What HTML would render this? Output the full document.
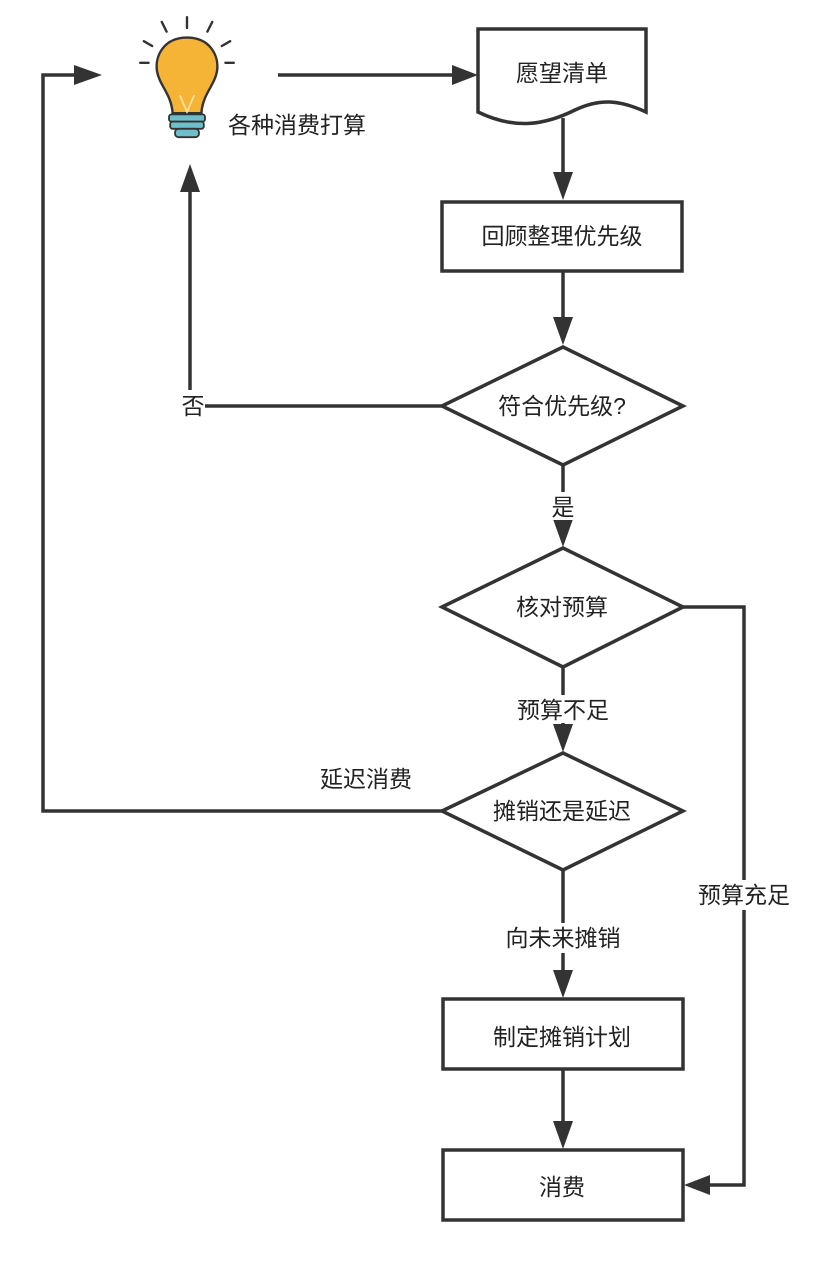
<!DOCTYPE html>
<html><head><meta charset="utf-8"><style>
html,body{margin:0;padding:0;background:#fff;}
svg text{font-family:"Liberation Sans","Noto Sans CJK SC",sans-serif;font-size:23px;fill:#222;}
</style></head><body>
<svg width="826" height="1258" viewBox="0 0 826 1258" xmlns="http://www.w3.org/2000/svg">
<g stroke="#333" stroke-width="3.5" fill="none">
<path d="M478 29 H646 V112 C620 100 600 98 575 110 C545 125 515 130 478 112 Z" fill="#fff"/>
<rect x="442" y="202" width="240" height="69" fill="#fff"/>
<polygon points="442,406 563,347 683,406 563,465" fill="#fff"/>
<polygon points="442,607 563,548 683,607 563,667" fill="#fff"/>
<polygon points="442,811 563,753 683,811 563,870" fill="#fff"/>
<rect x="443" y="999" width="240" height="70" fill="#fff"/>
<rect x="443" y="1150" width="240" height="70" fill="#fff"/>
<line x1="278" y1="75" x2="455" y2="75"/>
<line x1="563" y1="118" x2="563" y2="176"/>
<line x1="563" y1="271" x2="563" y2="320"/>
<line x1="563" y1="465" x2="563" y2="522"/>
<line x1="563" y1="667" x2="563" y2="728"/>
<line x1="563" y1="870" x2="563" y2="975"/>
<line x1="563" y1="1069" x2="563" y2="1125"/>
<polyline points="442,406 205,406"/>
<line x1="190" y1="390" x2="190" y2="188"/>
<polyline points="442,811 43,811 43,75 78,75"/>
<polyline points="683,607 744,607 744,1185 705,1185"/>
</g>
<g fill="#333">
<polygon points="478,75 452,65 452,85"/>
<polygon points="563,200 553,172 573,172"/>
<polygon points="563,345 553,317 573,317"/>
<polygon points="563,547 553,519 573,519"/>
<polygon points="563,752 553,724 573,724"/>
<polygon points="563,998 553,970 573,970"/>
<polygon points="563,1149 553,1121 573,1121"/>
<polygon points="190,164 180,192 200,192"/>
<polygon points="102,75 74,65 74,85"/>
<polygon points="684,1185 710,1175 710,1195"/>
</g>
<g transform="translate(187,70) scale(1.2) translate(-187,-62)">
<g stroke="#333" stroke-width="2" stroke-linecap="round">
<line x1="187" y1="18" x2="187" y2="27"/>
<line x1="166" y1="22" x2="170" y2="30"/>
<line x1="208" y1="22" x2="204" y2="30"/>
<line x1="151" y1="38" x2="158" y2="42"/>
<line x1="223" y1="38" x2="216" y2="42"/>
<line x1="148" y1="56" x2="155" y2="56"/>
<line x1="226" y1="56" x2="219" y2="56"/>
</g>
<path d="M187 35 C168 35 160 50 162 63 C164 75 174 82 175 98 H199 C200 82 210 75 212 63 C214 50 206 35 187 35 Z" fill="#f6b436" stroke="#333" stroke-width="2"/>
<path d="M181 83 L187 97 L193 83" fill="none" stroke="#fbe0a0" stroke-width="1.5"/>
<rect x="172" y="99" width="30" height="6" rx="2" fill="#6cc0cc" stroke="#333" stroke-width="1.5"/>
<rect x="173" y="105" width="28" height="6" rx="2" fill="#6cc0cc" stroke="#333" stroke-width="1.5"/>
<rect x="177" y="111" width="20" height="7" rx="3" fill="#6cc0cc" stroke="#333" stroke-width="1.5"/>
</g>
<text x="228" y="133">各种消费打算</text>
<text x="562" y="81" text-anchor="middle">愿望清单</text>
<text x="562" y="244" text-anchor="middle">回顾整理优先级</text>
<text x="562" y="414" text-anchor="middle">符合优先级?</text>
<text x="562" y="615" text-anchor="middle">核对预算</text>
<text x="562" y="819" text-anchor="middle">摊销还是延迟</text>
<text x="562" y="1045" text-anchor="middle">制定摊销计划</text>
<text x="562" y="1195" text-anchor="middle">消费</text>
<text x="193" y="414" text-anchor="middle">否</text>
<rect x="545" y="492" width="36" height="28" fill="#fff"/>
<text x="563" y="515" text-anchor="middle">是</text>
<rect x="508" y="695" width="110" height="28" fill="#fff"/>
<text x="563" y="718" text-anchor="middle">预算不足</text>
<text x="366" y="787" text-anchor="middle">延迟消费</text>
<rect x="496" y="923" width="134" height="30" fill="#fff"/>
<text x="563" y="946" text-anchor="middle">向未来摊销</text>
<rect x="688" y="880" width="112" height="30" fill="#fff"/>
<text x="744" y="903" text-anchor="middle">预算充足</text>
</svg>
</body></html>
